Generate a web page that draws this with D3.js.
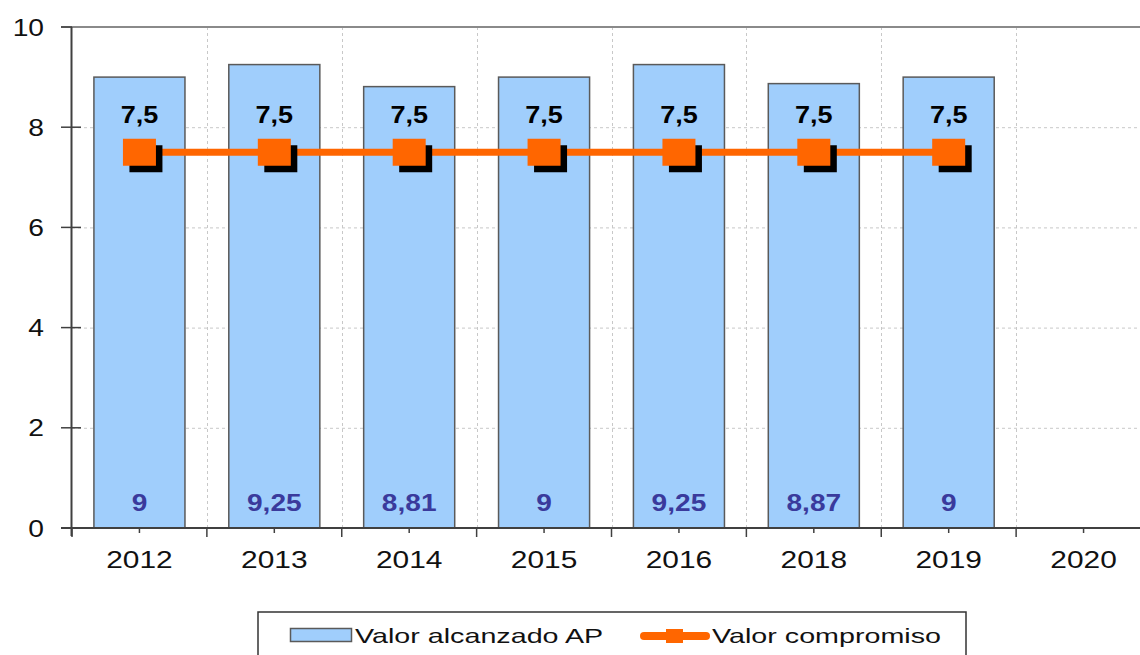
<!DOCTYPE html>
<html>
<head>
<meta charset="utf-8">
<script src="https://cdn.jsdelivr.net/npm/d3@7"></script>
<style>
  html, body { margin: 0; padding: 0; background: #fff; }
  svg { display: block; font-family: "Liberation Sans", Arial, sans-serif; }
</style>
</head>
<body>
<svg id="chart" width="1140" height="655"></svg>
<script>
// ---- data ----
const categories = ["2012", "2013", "2014", "2015", "2016", "2018", "2019", "2020"];
const valorAlcanzado = [9, 9.25, 8.81, 9, 9.25, 8.87, 9, null];
const valorCompromiso = [7.5, 7.5, 7.5, 7.5, 7.5, 7.5, 7.5, null];
const yTicks = [0, 2, 4, 6, 8, 10];
const legendLabels = ["Valor alcanzado AP", "Valor compromiso"];

const fmt = v => String(v).replace(".", ",");

const svg = d3.select("#chart");
const W = 1140;

const x = d3.scaleBand().domain(categories).range([72, 1151])
  .paddingInner(0.325).paddingOuter(0.1625);
const y = d3.scaleLinear().domain([0, 10]).range([528, 27]);
const step = x.step();
const cx = c => x(c) + x.bandwidth() / 2;

// helper: horizontally stretched text
function stext(g, tx, ty, str, opts) {
  const t = g.append("text")
    .attr("transform", `translate(${tx},${ty}) scale(${opts.sx},1)`)
    .attr("text-anchor", opts.anchor || "middle")
    .attr("font-size", opts.size)
    .attr("font-weight", opts.weight || "normal")
    .attr("fill", opts.fill || "#000")
    .text(str);
  return t;
}

const plotRight = W;

// horizontal grid lines
const grid = svg.append("g");
grid.selectAll("line.h").data(yTicks.filter(t => t > 0 && t < 10)).join("line")
  .attr("x1", 72).attr("x2", plotRight)
  .attr("y1", d => y(d) + 0.5).attr("y2", d => y(d) + 0.5)
  .attr("stroke", "#c8c8c8").attr("stroke-width", 1).attr("stroke-dasharray", "3,3");

// vertical grid lines at category boundaries
const bounds = d3.range(1, categories.length).map(i => 72 + i * step);
grid.selectAll("line.v").data(bounds).join("line")
  .attr("x1", d => Math.round(d) + 0.5).attr("x2", d => Math.round(d) + 0.5)
  .attr("y1", y(10)).attr("y2", y(0))
  .attr("stroke", "#c8c8c8").attr("stroke-width", 1).attr("stroke-dasharray", "3,3");

// top border
svg.append("line").attr("x1", 61).attr("x2", plotRight)
  .attr("y1", y(10)).attr("y2", y(10))
  .attr("stroke", "#8a8a8a").attr("stroke-width", 2);

// bars
const barData = categories.map((c, i) => ({ c, v: valorAlcanzado[i] })).filter(d => d.v != null);
svg.append("g").selectAll("rect").data(barData).join("rect")
  .attr("x", d => x(d.c)).attr("width", x.bandwidth())
  .attr("y", d => y(d.v)).attr("height", d => y(0) - y(d.v))
  .attr("fill", "#a0cefc").attr("stroke", "#5a5a5a").attr("stroke-width", 1.5);

// bar value labels
const bl = svg.append("g");
barData.forEach(d => stext(bl, cx(d.c), 510.5, fmt(d.v),
  { size: 24, weight: "bold", fill: "#3a3a9c", sx: 1.17 }));

// y axis
svg.append("line").attr("x1", 71.5).attr("x2", 71.5).attr("y1", y(10)).attr("y2", 536)
  .attr("stroke", "#404040").attr("stroke-width", 2);
svg.append("g").selectAll("line").data(yTicks).join("line")
  .attr("x1", 61).attr("x2", d => d === 10 ? 72 : 81)
  .attr("y1", d => y(d)).attr("y2", d => y(d))
  .attr("stroke", "#404040").attr("stroke-width", 1.5);
const yl = svg.append("g");
yTicks.forEach(t => stext(yl, 44, y(t) + 8.5, String(t),
  { size: 23.5, anchor: "end", sx: 1.2, fill: "#111" }));

// x axis
svg.append("line").attr("x1", 61).attr("x2", plotRight).attr("y1", y(0)).attr("y2", y(0))
  .attr("stroke", "#404040").attr("stroke-width", 2);
const majors = d3.range(0, categories.length + 1).map(i => 72 + i * step).filter(v => v < W);
svg.append("g").selectAll("line").data(majors).join("line")
  .attr("x1", d => d).attr("x2", d => d).attr("y1", y(0)).attr("y2", 537)
  .attr("stroke", "#404040").attr("stroke-width", 1.5);
svg.append("g").selectAll("line").data(categories).join("line")
  .attr("x1", d => cx(d)).attr("x2", d => cx(d)).attr("y1", y(0)).attr("y2", 533)
  .attr("stroke", "#404040").attr("stroke-width", 1.5);
const xl = svg.append("g");
categories.forEach(c => stext(xl, cx(c), 568, c, { size: 24.5, sx: 1.22, fill: "#111" }));

// line series
const lineData = categories.map((c, i) => ({ c, v: valorCompromiso[i] })).filter(d => d.v != null);
svg.append("path").datum(lineData)
  .attr("d", d3.line().x(d => cx(d.c)).y(d => y(d.v)))
  .attr("fill", "none").attr("stroke", "#ff6600").attr("stroke-width", 7);
const mw = 33, mh = 27;
const mk = svg.append("g");
mk.selectAll("rect.s").data(lineData).join("rect")
  .attr("x", d => cx(d.c) - mw / 2 + 6.5).attr("y", d => y(d.v) - mh / 2 + 6.5)
  .attr("width", mw).attr("height", mh).attr("fill", "#000");
mk.selectAll("rect.m").data(lineData).join("rect")
  .attr("x", d => cx(d.c) - mw / 2).attr("y", d => y(d.v) - mh / 2)
  .attr("width", mw).attr("height", mh).attr("fill", "#ff6600");
// line labels
const ll = svg.append("g");
lineData.forEach(d => stext(ll, cx(d.c), y(d.v) - 29, fmt(d.v),
  { size: 23.5, weight: "bold", fill: "#000", sx: 1.15 }));

// legend
const lg = svg.append("g");
lg.append("rect").attr("x", 258).attr("y", 612).attr("width", 708).attr("height", 60)
  .attr("fill", "#fff").attr("stroke", "#333").attr("stroke-width", 1.5);
lg.append("rect").attr("x", 290.5).attr("y", 628.5).attr("width", 61).attr("height", 13)
  .attr("fill", "#a0cefc").attr("stroke", "#5a5a5a").attr("stroke-width", 1.5);
stext(lg, 355, 642.5, legendLabels[0], { size: 20.5, anchor: "start", sx: 1.4, fill: "#111" });
lg.append("line").attr("x1", 644).attr("x2", 706).attr("y1", 636).attr("y2", 636)
  .attr("stroke", "#ff6600").attr("stroke-width", 8).attr("stroke-linecap", "round");
lg.append("rect").attr("x", 666).attr("y", 629).attr("width", 17).attr("height", 14)
  .attr("fill", "#ff6600");
stext(lg, 712, 642.5, legendLabels[1], { size: 20.5, anchor: "start", sx: 1.4, fill: "#111" });
</script>
</body>
</html>
